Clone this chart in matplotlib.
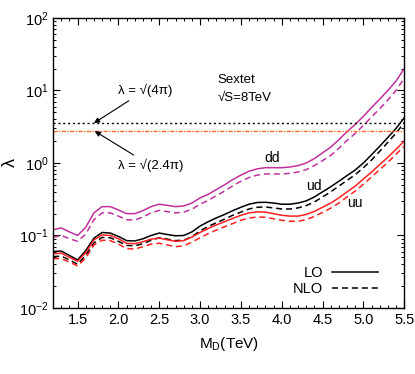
import numpy as np
import matplotlib
matplotlib.use('Agg')
import matplotlib.pyplot as plt
from matplotlib.lines import Line2D
from matplotlib.ticker import MultipleLocator, LogLocator, NullFormatter

plt.rcParams['font.family'] = ['Liberation Sans', 'DejaVu Sans']
plt.rcParams['mathtext.fontset'] = 'custom'
plt.rcParams['mathtext.rm'] = 'Liberation Sans'
plt.rcParams['mathtext.default'] = 'regular'

# M_D (TeV)
md = [1.2, 1.3, 1.4, 1.5, 1.6, 1.7, 1.8, 1.9, 2.0, 2.1, 2.2, 2.3, 2.4, 2.5, 2.6,
      2.7, 2.8, 2.9, 3.0, 3.1, 3.2, 3.3, 3.4, 3.5, 3.6, 3.7, 3.8, 3.9, 4.0, 4.1,
      4.2, 4.3, 4.4, 4.5, 4.6, 4.7, 4.8, 4.9, 5.0, 5.1, 5.2, 5.3, 5.4, 5.5]

dd_lo = [0.12, 0.127, 0.112, 0.10, 0.13, 0.205, 0.25, 0.25, 0.225, 0.20, 0.20, 0.22,
         0.25, 0.27, 0.26, 0.25, 0.255, 0.28, 0.33, 0.37, 0.43, 0.50, 0.59, 0.68,
         0.77, 0.83, 0.86, 0.86, 0.86, 0.88, 0.92, 1.0, 1.15, 1.38, 1.65, 2.1, 2.7,
         3.4, 4.4, 5.8, 7.6, 10.0, 13.5, 20.0]
dd_nlo = [0.094, 0.10, 0.09, 0.083, 0.105, 0.165, 0.205, 0.205, 0.185, 0.165, 0.163,
          0.18, 0.205, 0.222, 0.213, 0.205, 0.21, 0.23, 0.27, 0.305, 0.355, 0.41,
          0.485, 0.56, 0.63, 0.68, 0.705, 0.705, 0.705, 0.72, 0.75, 0.81, 0.92, 1.08,
          1.27, 1.6, 2.05, 2.55, 3.3, 4.3, 5.6, 7.4, 10.0, 14.8]
ud_lo = [0.06, 0.061, 0.053, 0.046, 0.062, 0.092, 0.11, 0.108, 0.097, 0.085, 0.084,
         0.09, 0.10, 0.108, 0.103, 0.099, 0.10, 0.112, 0.135, 0.155, 0.175, 0.195,
         0.22, 0.245, 0.27, 0.285, 0.287, 0.28, 0.27, 0.27, 0.28, 0.30, 0.34, 0.40,
         0.47, 0.56, 0.67, 0.80, 1.0, 1.3, 1.7, 2.25, 3.0, 4.2]
ud_nlo = [0.051, 0.052, 0.046, 0.040, 0.053, 0.079, 0.094, 0.093, 0.083, 0.073, 0.072,
          0.077, 0.086, 0.093, 0.089, 0.085, 0.086, 0.096, 0.116, 0.133, 0.15, 0.168,
          0.19, 0.21, 0.232, 0.245, 0.247, 0.24, 0.232, 0.232, 0.24, 0.258, 0.29,
          0.34, 0.40, 0.48, 0.575, 0.69, 0.86, 1.1, 1.45, 1.93, 2.58, 3.6]
uu_lo = [0.056, 0.057, 0.05, 0.044, 0.058, 0.087, 0.102, 0.10, 0.09, 0.078, 0.077,
         0.082, 0.089, 0.092, 0.087, 0.083, 0.085, 0.095, 0.11, 0.125, 0.14, 0.155,
         0.172, 0.19, 0.205, 0.212, 0.21, 0.20, 0.19, 0.185, 0.185, 0.195, 0.215,
         0.245, 0.28, 0.33, 0.40, 0.48, 0.60, 0.75, 0.95, 1.2, 1.55, 2.0]
uu_nlo = [0.048, 0.048, 0.043, 0.038, 0.049, 0.074, 0.086, 0.085, 0.076, 0.066, 0.065,
          0.07, 0.076, 0.078, 0.074, 0.07, 0.072, 0.081, 0.093, 0.106, 0.119, 0.132,
          0.146, 0.162, 0.174, 0.18, 0.178, 0.17, 0.162, 0.157, 0.157, 0.166, 0.183,
          0.208, 0.238, 0.28, 0.34, 0.41, 0.51, 0.64, 0.81, 1.02, 1.32, 1.7]

lam_4pi = np.sqrt(4 * np.pi)
lam_24pi = np.sqrt(2.4 * np.pi)

magenta, red, orange = '#c0309c', '#ff2020', '#ff6a2a'
dash = (0, (4, 2.5))

fig = plt.figure(figsize=(4.15, 3.74), dpi=100)
ax = fig.add_axes([0.128, 0.1765, 0.846, 0.7755])

ax.plot(md, dd_lo, color=magenta, lw=1.1)
ax.plot(md, dd_nlo, color=magenta, lw=1.1, ls=dash)
ax.plot(md, ud_lo, color='k', lw=1.1)
ax.plot(md, ud_nlo, color='k', lw=1.1, ls=dash)
ax.plot(md, uu_lo, color=red, lw=1.1)
ax.plot(md, uu_nlo, color=red, lw=1.1, ls=dash)

ax.axhline(lam_4pi, color='k', lw=1.0, ls=(0, (1.5, 2)))
ax.axhline(lam_24pi, color=orange, lw=1.0, ls=(0, (3, 1, 1, 1)))

ax.set_yscale('log')
ax.set_xlim(1.2, 5.5)
ax.set_ylim(1e-2, 1e2)

ax.xaxis.set_major_locator(MultipleLocator(0.5))
ax.xaxis.set_minor_locator(MultipleLocator(0.1))
ax.yaxis.set_minor_locator(LogLocator(base=10, subs=np.arange(2, 10)))
ax.yaxis.set_minor_formatter(NullFormatter())
ax.tick_params(which='both', direction='in', top=True, right=True, labelsize=10.5)
ax.tick_params(which='major', length=5, width=0.8)
ax.tick_params(which='minor', length=2.5, width=0.7)
for s in ax.spines.values():
    s.set_linewidth(1.0)

ax.set_xlabel('M$_\\mathregular{D}$(TeV)', fontsize=11, labelpad=6)
ax.set_ylabel('λ', fontsize=13, labelpad=0)

arrow = dict(arrowstyle='-|>', color='k', lw=0.8, mutation_scale=8, shrinkA=1, shrinkB=0)
ax.annotate('λ = √(4π)', xy=(1.70, lam_4pi), xytext=(1.99, 10.0),
            fontsize=9.5, va='center', ha='left', arrowprops=arrow)
ax.annotate('λ = √(2.4π)', xy=(1.71, lam_24pi), xytext=(1.99, 0.93),
            fontsize=9.5, va='center', ha='left', arrowprops=arrow)

ax.text(3.21, 14.0, 'Sextet', fontsize=9.5, va='center', ha='left')
ax.text(3.21, 8.0, '√S=8TeV', fontsize=9.5, va='center', ha='left')

ax.text(3.88, 1.17, 'dd', fontsize=10, ha='center', va='center')
ax.text(4.39, 0.48, 'ud', fontsize=10, ha='center', va='center')
ax.text(4.89, 0.28, 'uu', fontsize=10, ha='center', va='center')

handles = [Line2D([], [], color='k', lw=1.1),
           Line2D([], [], color='k', lw=1.1, ls=dash)]
ax.legend(handles, ['LO', 'NLO'], loc='lower right', frameon=False,
          markerfirst=False, handlelength=3.2, fontsize=10.5,
          bbox_to_anchor=(0.96, 0.0), borderaxespad=0.4, labelspacing=0.15,
          handletextpad=0.6)

fig.savefig('out.png', dpi=100)
